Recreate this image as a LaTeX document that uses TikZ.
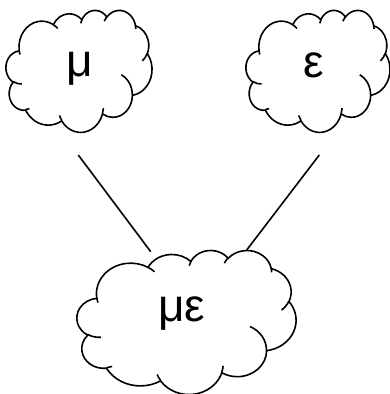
\documentclass[tikz,border=0pt]{standalone}
\usepackage{fontspec}
\setmainfont{Liberation Sans}
\makeatletter
\def\cldarc#1#2#3#4{%
  \pgfmathsetmacro\cldS{atan2((#1)*sin(#3),(#2)*cos(#3))}%
  \pgfmathsetmacro\cldE{atan2((#1)*sin((#3)+(#4)),(#2)*cos((#3)+(#4)))}%
  \pgfmathsetmacro\cldD{mod(\cldE-\cldS+720,360)}%
  \ifdim #4pt<0pt \pgfmathsetmacro\cldD{\cldD-360}\fi
  \pgfmathsetmacro\cldF{\cldS+\cldD}%
  \pgfpatharc{\cldS}{\cldF}{#1pt and #2pt}%
}
\makeatother
\newcommand\drawcloud[4]{%
  \begin{scope}[shift={(#1pt,-#2pt)}, xscale=#3/432, yscale=-#4/432]
    \pgfpathmoveto{\pgfpoint{39pt}{143.7pt}}%
    \cldarc{67.53}{91.90}{-190.48748}{123.78053}%
    \cldarc{53.33}{72.67}{-144.10238}{89.94523}%
    \cldarc{43.65}{59.45}{-145.80792}{99.72302}%
    \cldarc{48.57}{65.95}{-130.98607}{117.24173}%
    \cldarc{53.33}{72.73}{-78.70888}{109.02692}%
    \cldarc{67.75}{92.20}{-46.26725}{130.269}%
    \cldarc{57.85}{78.67}{0.62502}{114.03333}%
    \cldarc{67.52}{92.15}{22.4516}{115.17255}%
    \cldarc{77.20}{105.43}{66.24263}{75.71102}%
    \cldarc{43.60}{59.18}{-274.94208}{146.73557}%
    \cldarc{43.45}{59.45}{-246.8285}{152.51885}%
    \pgfpathclose
    \pgfsetfillcolor{white}%
    \pgfusepath{fill,stroke}%
    \pgfpathmoveto{\pgfpoint{46.93pt}{261.77pt}}\cldarc{43.45}{59.45}{86.742}{26.4295}%
    \pgfpathmoveto{\pgfpoint{69.28pt}{348.99pt}}\cldarc{43.60}{59.18}{73.61047}{11.44747}%
    \pgfpathmoveto{\pgfpoint{164.78pt}{390.90pt}}\cldarc{67.52}{92.15}{137.62415}{14.0811}%
    \pgfpathmoveto{\pgfpoint{288.27pt}{347.51pt}}\cldarc{67.52}{92.15}{6.45327}{15.99835}%
    \pgfpathmoveto{\pgfpoint{341.29pt}{229.54pt}}\cldarc{57.85}{78.67}{-70.29235}{70.91737}%
    \pgfpathmoveto{\pgfpoint{417.98pt}{153.54pt}}\cldarc{53.33}{72.73}{30.31803}{27.7515}%
    \pgfpathmoveto{\pgfpoint{383.24pt}{54.26pt}}\cldarc{48.57}{65.95}{-13.74433}{14.8589}%
    \pgfpathmoveto{\pgfpoint{290.78pt}{39.52pt}}\cldarc{48.57}{65.95}{-149.18145}{18.19537}%
    \pgfpathmoveto{\pgfpoint{221.41pt}{47.20pt}}\cldarc{43.65}{59.45}{-163.49427}{17.68635}%
    \pgfpathmoveto{\pgfpoint{140.00pt}{51.92pt}}\cldarc{67.53}{91.90}{-66.70695}{12.31935}%
    \pgfpathmoveto{\pgfpoint{41.27pt}{157.89pt}}\cldarc{67.53}{91.90}{157.65435}{11.85817}%
    \pgfusepath{stroke}%
  \end{scope}}
\tikzset{
  lbl/.style={anchor=base, inner sep=0pt, font=\fontsize{46}{54}\selectfont},
  link/.style={line width=1.6pt, black}
}
\begin{document}
\begin{tikzpicture}[line width=1.6pt]
  \useasboundingbox (0,0) rectangle (390pt,-394pt);
  \drawcloud{6}{10}{146}{122}
  \drawcloud{246}{10}{144}{122}
  \drawcloud{77}{250}{219}{144}
  \node[lbl] (mu) at (80pt,-76pt) {μ};
  \node[lbl] (eps) at (314pt,-77pt) {ε};
  \node[lbl] (mueps) at (182pt,-321pt) {με};
  \coordinate (a1) at (78.3pt,-155pt);
  \coordinate (a2) at (150.7pt,-251.7pt);
  \coordinate (b1) at (319.3pt,-155pt);
  \coordinate (b2) at (246.7pt,-250pt);
  \draw[link] (a1) -- (a2);
  \draw[link] (b1) -- (b2);
\end{tikzpicture}
\end{document}
